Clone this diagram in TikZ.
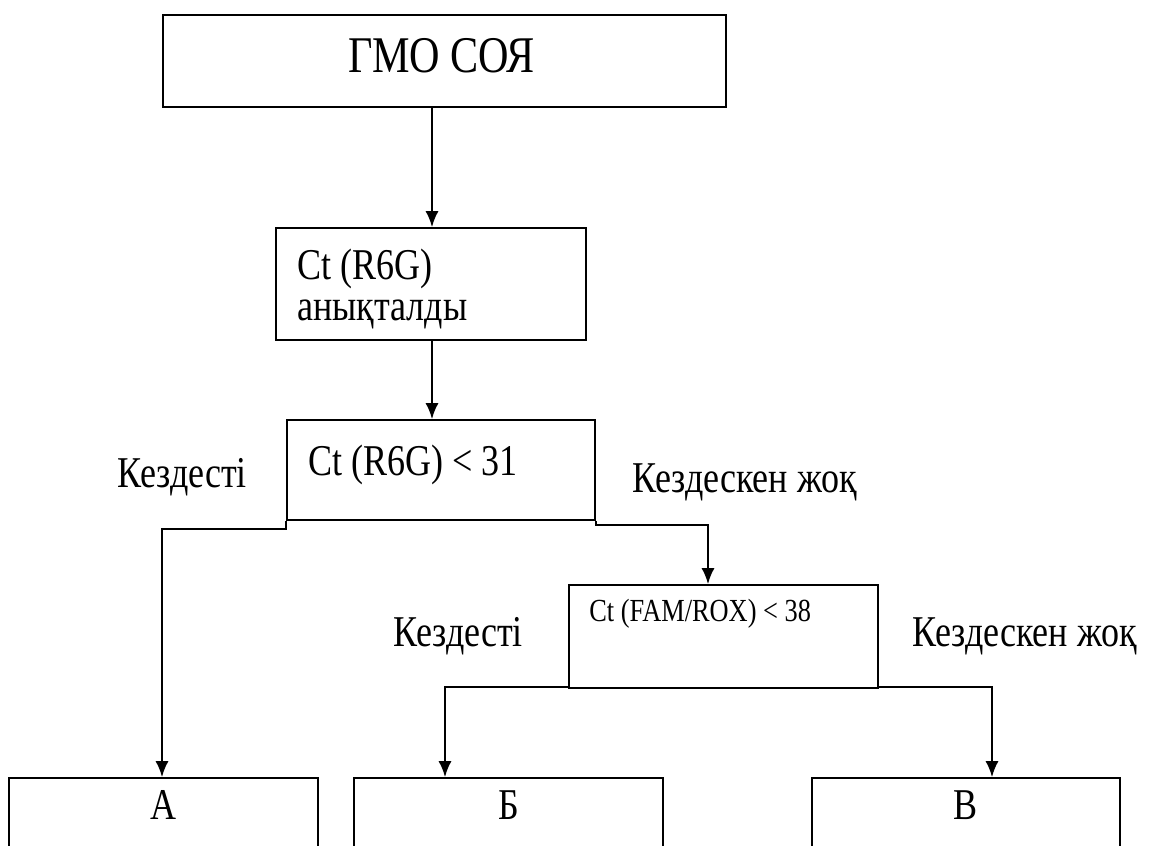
\documentclass[tikz,border=0pt]{standalone}
\usepackage{graphicx}
\usepackage{fontspec}
\setmainfont{Liberation Serif}
\usetikzlibrary{arrows.meta}

% Schrift etwas gestreckt wie in der Vorlage
\newcommand{\hoch}[1]{\scalebox{1}[1.22]{#1}}

\begin{document}
\begin{tikzpicture}[
    kasten/.style={draw, line width=0.9pt, inner sep=0pt},
    pfeil/.style={-{Latex[length=3.2mm,width=2.6mm]}, line width=1.2pt},
    schrift/.style={font=\fontsize{20.5}{24}\selectfont, inner sep=0pt},
    klein/.style={font=\fontsize{15}{18}\selectfont, inner sep=0pt}
]
    \useasboundingbox (0,0) rectangle (23.02,-16.92);
    \clip (0,0) rectangle (23.02,-16.92);

    % Kästen
    \node[kasten, minimum width=11.26cm, minimum height=1.84cm] (gmo) at (8.89,-1.22) {};
    \node[kasten, minimum width=6.2cm, minimum height=2.24cm] (ctr) at (8.62,-5.68) {};
    \node[kasten, minimum width=6.16cm, minimum height=2.0cm] (frage1) at (8.82,-9.4) {};
    \node[kasten, minimum width=6.18cm, minimum height=2.06cm] (frage2) at (14.47,-12.73) {};
    \node[kasten, minimum width=6.18cm, minimum height=2.44cm] (a) at (3.27,-16.78) {};
    \node[kasten, minimum width=6.18cm, minimum height=2.44cm] (b) at (10.17,-16.78) {};
    \node[kasten, minimum width=6.16cm, minimum height=2.44cm] (v) at (19.32,-16.78) {};

    % Texte in den Kästen
    \node[font=\fontsize{24}{28}\selectfont, inner sep=0pt, anchor=base] (gmotxt) at (8.83,-1.46) {\hoch{ГМО СОЯ}};
    \node[schrift, anchor=base west] (ctr1) at (5.94,-5.6) {\hoch{Ct (R6G)}};
    \node[schrift, anchor=base west] (ctr2) at (5.94,-6.42) {\hoch{анықталды}};
    \node[schrift, anchor=base west] (frage1txt) at (6.16,-9.52) {\hoch{Ct (R6G) < 31}};
    \node[klein, anchor=base west] (frage2txt) at (11.78,-12.44) {\hoch{Ct (FAM/ROX) < 38}};
    \node[schrift, anchor=base] (atxt) at (3.28,-16.4) {\hoch{А}};
    \node[schrift, anchor=base] (btxt) at (10.17,-16.4) {\hoch{Б}};
    \node[schrift, anchor=base] (vtxt) at (19.32,-16.4) {\hoch{В}};

    % Beschriftungen der Zweige
    \node[schrift, anchor=base west] (ja1) at (2.34,-9.76) {\hoch{Кездесті}};
    \node[schrift, anchor=base west] (nein1) at (12.64,-9.86) {\hoch{Кездескен жоқ}};
    \node[schrift, anchor=base west] (ja2) at (7.86,-12.92) {\hoch{Кездесті}};
    \node[schrift, anchor=base west] (nein2) at (18.24,-12.92) {\hoch{Кездескен жоқ}};

    % Hilfskoordinaten für die Pfeile
    \coordinate (achse) at (8.64,0);
    \coordinate (links1) at (3.24,0);
    \coordinate (rechts1) at (14.16,0);
    \coordinate (links2) at (8.9,0);
    \coordinate (rechts2) at (19.84,0);

    % Pfeile
    \draw[pfeil] (gmo.south -| achse) -- (ctr.north -| achse);
    \draw[pfeil] (ctr.south -| achse) -- (frage1.north -| achse);
    \draw[pfeil] (frage1.south west) -- ++(0,-0.16) -| (a.north -| links1);
    \draw[pfeil] (frage1.south east) -- ++(0,-0.08) -| (frage2.north -| rechts1);
    \draw[pfeil] ([yshift=0.4mm]frage2.south west) -| (b.north -| links2);
    \draw[pfeil] ([yshift=0.4mm]frage2.south east) -| (v.north -| rechts2);
\end{tikzpicture}
\end{document}
